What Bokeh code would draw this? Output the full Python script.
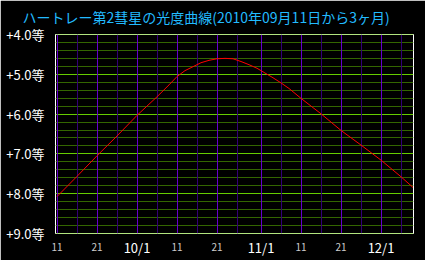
from bokeh.plotting import figure
from bokeh.models import Range1d, FixedTicker, LinearAxis, Grid
from bokeh.embed import file_html
from bokeh.resources import INLINE
import pandas as pd

title_text = "ハートレー第2彗星の光度曲線(2010年09月11日から3ヶ月)"
start_date = "2010-09-11"

obs_dates = ["2010-09-11", "2010-09-16", "2010-09-21", "2010-09-26", "2010-10-01",
             "2010-10-06", "2010-10-09", "2010-10-11", "2010-10-13", "2010-10-15",
             "2010-10-17", "2010-10-19", "2010-10-21", "2010-10-23", "2010-10-25",
             "2010-10-27", "2010-10-29", "2010-10-31", "2010-11-02", "2010-11-04",
             "2010-11-06", "2010-11-08", "2010-11-11", "2010-11-16", "2010-11-21",
             "2010-11-26", "2010-12-01", "2010-12-06", "2010-12-09"]
magnitudes = [8.08, 7.57, 7.05, 6.55, 6.03, 5.56, 5.26, 5.05, 4.90, 4.80,
              4.70, 4.64, 4.60, 4.59, 4.60, 4.67, 4.75, 4.84, 4.96, 5.08,
              5.21, 5.35, 5.60, 5.99, 6.41, 6.78, 7.16, 7.58, 7.85]

day_tick_dates = ["2010-09-11", "2010-09-21", "2010-10-11", "2010-10-21",
                  "2010-11-11", "2010-11-21"]
day_tick_labels = ["11", "21", "11", "21", "11", "21"]
month_tick_dates = ["2010-10-01", "2010-11-01", "2010-12-01"]
month_tick_labels = ["10/1", "11/1", "12/1"]
half_tick_dates = ["2010-09-16", "2010-09-26", "2010-10-06", "2010-10-16", "2010-10-26",
                   "2010-11-06", "2010-11-16", "2010-11-26", "2010-12-06"]

mag_ticks = [4, 5, 6, 7, 8, 9]
mag_tick_labels = ["+4.0等", "+5.0等", "+6.0等", "+7.0等", "+8.0等", "+9.0等"]
mag_minor_ticks = [4.2, 4.4, 4.6, 4.8, 5.2, 5.4, 5.6, 5.8, 6.2, 6.4, 6.6, 6.8,
                   7.2, 7.4, 7.6, 7.8, 8.2, 8.4, 8.6, 8.8]

t0 = pd.Timestamp(start_date)
def to_day(ds):
    return [int((pd.Timestamp(d) - t0).days) for d in ds]

x_days = to_day(obs_dates)
day_ticks = to_day(day_tick_dates)
month_ticks = to_day(month_tick_dates)
half_ticks = to_day(half_tick_dates)
JP = "Noto Sans CJK JP"

# half-pixel shifted ranges so 1px lines fall on pixel centres (frame 358 x 201 px)
p = figure(width=425, height=260, output_backend="svg", toolbar_location=None,
           x_range=Range1d(-0.375, 89.125), y_range=Range1d(9.0125, 3.9875),
           min_border_left=55, min_border_right=12, min_border_top=32, min_border_bottom=27,
           background_fill_color="black", border_fill_color="black",
           outline_line_color="white", outline_line_width=1)

p.title.text = title_text
p.title.text_color = "#22bbff"
p.title.text_font = JP
p.title.text_font_size = "14px"
p.title.text_font_style = "normal"
p.title.align = "left"
p.title.offset = -33
p.title.vertical_align = "top"
p.title.standoff = 12

ya = p.yaxis[0]
ya.ticker = FixedTicker(ticks=mag_ticks)
ya.major_label_overrides = {t: l for t, l in zip(mag_ticks, mag_tick_labels)}
ya.major_label_text_color = "white"
ya.major_label_text_font = JP
ya.major_label_text_font_size = "13px"
ya.major_label_standoff = 5
ya.axis_line_color = None
ya.major_tick_line_color = None
ya.minor_tick_line_color = None

xa = p.xaxis[0]
xa.ticker = FixedTicker(ticks=day_ticks)
xa.major_label_overrides = {t: l for t, l in zip(day_ticks, day_tick_labels)}
xa.major_label_text_color = "#cccccc"
xa.major_label_text_font = JP
xa.major_label_text_font_size = "10px"
xa.major_label_standoff = 3
xa.axis_line_color = None
xa.major_tick_line_color = None
xa.minor_tick_line_color = None

xm = LinearAxis(ticker=FixedTicker(ticks=month_ticks),
                major_label_overrides={t: l for t, l in zip(month_ticks, month_tick_labels)},
                major_label_text_color="white", major_label_text_font=JP,
                major_label_text_font_size="13px", major_label_standoff=-22,
                axis_line_color=None, major_tick_line_color=None,
                minor_tick_line_color=None)
p.add_layout(xm, "below")

gy = Grid(dimension=1, ticker=FixedTicker(ticks=mag_ticks, minor_ticks=mag_minor_ticks),
          grid_line_color="#66cc00", grid_line_width=1,
          minor_grid_line_color="#336600", minor_grid_line_width=1)
gx = Grid(dimension=0,
          ticker=FixedTicker(ticks=sorted(day_ticks + month_ticks), minor_ticks=half_ticks),
          grid_line_color="#6600cc", grid_line_width=1,
          minor_grid_line_color="#330077", minor_grid_line_width=1)
p.center = [gy, gx]

p.line(x_days, magnitudes, line_color="#ff0000", line_width=1)

open("out.html", "w").write(file_html(p, INLINE))
